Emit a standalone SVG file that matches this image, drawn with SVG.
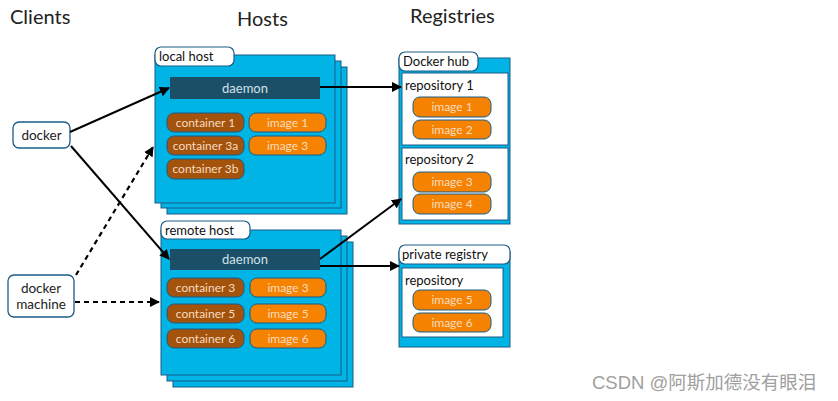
<svg xmlns="http://www.w3.org/2000/svg" width="838" height="401" viewBox="0 0 838 401">
<defs>
<marker id="ah" viewBox="0 0 10 10" refX="9" refY="5" markerWidth="10" markerHeight="10" markerUnits="userSpaceOnUse" orient="auto"><path d="M0,0 L10,5 L0,10 z" fill="#000"/></marker>
<style>
.title{font-family:Lato,"Liberation Sans",sans-serif;font-size:20px;fill:#222}
.panel{fill:#00b4e6;stroke:#1a5c86;stroke-width:1}
.tab{fill:#fff;stroke:#1a5c86;stroke-width:1.2}
.lbl{font-family:Lato,"Liberation Sans",sans-serif;font-size:13px;fill:#111}
.daemon{fill:#1b4f68}
.dtext{font-family:Lato,"Liberation Sans",sans-serif;font-size:13px;fill:#d0e2ea;text-anchor:middle}
.cont{fill:#a3530c;stroke:#1a5c86;stroke-width:1}
.img{fill:#f58200;stroke:#1a5c86;stroke-width:1}
.ptext{font-family:Lato,"Liberation Sans",sans-serif;font-size:12px;fill:#f8dcc0;text-anchor:middle}
.repo{fill:#fff;stroke:#1a5c86;stroke-width:1}
.client{fill:#fff;stroke:#1a5c86;stroke-width:1.3}
.ctext{font-family:Lato,"Liberation Sans",sans-serif;font-size:13.5px;fill:#222;text-anchor:middle}
.conn{stroke:#000;stroke-width:2;fill:none;marker-end:url(#ah)}
.dash{stroke-dasharray:5,4;stroke-width:2.2}
.wm{font-family:"Liberation Sans","Noto Sans CJK SC",sans-serif;font-size:18.5px;fill:#a0a0a0}
</style>
</defs>
<text class="title" x="10" y="24">Clients</text>
<text class="title" x="237" y="26">Hosts</text>
<text class="title" x="410" y="23">Registries</text>

<g id="local-host">
<rect class="panel" x="167" y="67" width="180" height="147"/>
<rect class="panel" x="161" y="61" width="180" height="147"/>
<rect class="panel" x="155" y="55" width="180" height="148"/>
<rect class="tab" x="155" y="47" width="79" height="19" rx="6"/>
<text class="lbl" x="159" y="61">local host</text>
<rect class="daemon" x="170" y="77" width="150" height="22"/>
<text class="dtext" x="245" y="93">daemon</text>
<rect class="cont" x="167" y="113" width="77" height="19" rx="7"/>
<text class="ptext" x="205.5" y="127">container 1</text>
<rect class="cont" x="167" y="136" width="77" height="19" rx="7"/>
<text class="ptext" x="205.5" y="150">container 3a</text>
<rect class="cont" x="167" y="159" width="77" height="20" rx="7"/>
<text class="ptext" x="205.5" y="173">container 3b</text>
<rect class="img" x="249" y="113" width="77" height="19" rx="7"/>
<text class="ptext" x="287.5" y="127">image 1</text>
<rect class="img" x="249" y="136" width="77" height="19" rx="7"/>
<text class="ptext" x="287.5" y="150">image 3</text>
</g>

<g id="remote-host">
<rect class="panel" x="173" y="242" width="180" height="145"/>
<rect class="panel" x="167" y="236" width="180" height="145"/>
<rect class="panel" x="161" y="230" width="180" height="145"/>
<rect class="tab" x="161" y="221" width="89" height="18" rx="6"/>
<text class="lbl" x="165" y="235">remote host</text>
<rect class="daemon" x="170" y="249" width="150" height="21"/>
<text class="dtext" x="245" y="264">daemon</text>
<rect class="cont" x="167" y="278" width="77" height="19" rx="7"/>
<text class="ptext" x="205.5" y="292">container 3</text>
<rect class="cont" x="167" y="304" width="77" height="19" rx="7"/>
<text class="ptext" x="205.5" y="318">container 5</text>
<rect class="cont" x="167" y="329" width="77" height="19" rx="7"/>
<text class="ptext" x="205.5" y="343">container 6</text>
<rect class="img" x="250" y="278" width="76" height="19" rx="7"/>
<text class="ptext" x="288" y="292">image 3</text>
<rect class="img" x="250" y="304" width="76" height="19" rx="7"/>
<text class="ptext" x="288" y="318">image 5</text>
<rect class="img" x="250" y="329" width="76" height="19" rx="7"/>
<text class="ptext" x="288" y="343">image 6</text>
</g>

<g id="docker-hub">
<rect class="panel" x="399" y="58" width="111" height="166"/>
<rect class="tab" x="399" y="52" width="79" height="19" rx="6"/>
<text class="lbl" x="403" y="66">Docker hub</text>
<rect class="repo" x="402" y="73" width="106" height="72"/>
<text class="lbl" x="405" y="90">repository 1</text>
<rect class="img" x="413" y="97" width="78" height="20" rx="7"/>
<text class="ptext" x="452" y="111">image 1</text>
<rect class="img" x="413" y="120" width="78" height="19" rx="7"/>
<text class="ptext" x="452" y="134">image 2</text>
<rect class="repo" x="402" y="148" width="106" height="72"/>
<text class="lbl" x="405" y="164">repository 2</text>
<rect class="img" x="413" y="172" width="78" height="20" rx="7"/>
<text class="ptext" x="452" y="186">image 3</text>
<rect class="img" x="413" y="194" width="78" height="20" rx="7"/>
<text class="ptext" x="452" y="208">image 4</text>
</g>

<g id="private-registry">
<rect class="panel" x="399" y="252" width="111" height="95"/>
<rect class="tab" x="399" y="245" width="111" height="19" rx="6"/>
<text class="lbl" x="402" y="259">private registry</text>
<rect class="repo" x="402" y="268" width="101" height="69"/>
<text class="lbl" x="405" y="285">repository</text>
<rect class="img" x="413" y="290" width="78" height="20" rx="7"/>
<text class="ptext" x="452" y="304">image 5</text>
<rect class="img" x="413" y="313" width="78" height="19" rx="7"/>
<text class="ptext" x="452" y="327">image 6</text>
</g>

<g id="docker">
<rect class="client" x="13" y="122" width="57" height="26" rx="6"/>
<text class="ctext" x="41.5" y="140">docker</text>
</g>

<g id="docker-machine">
<rect class="client" x="8" y="275" width="66" height="42" rx="6"/>
<text class="ctext" x="41" y="293">docker</text>
<text class="ctext" x="41" y="309">machine</text>
</g>

<g id="connectors">
<path class="conn" d="M70,132 L169,88"/>
<path class="conn" d="M71,146 L169,259"/>
<path class="conn dash" d="M76,275 L153,147"/>
<path class="conn dash" d="M75,302 L159,302"/>
<path class="conn" d="M320,87 L401,87"/>
<path class="conn" d="M320,259 L401,199"/>
<path class="conn" d="M320,266 L399,266"/>
</g>

<text class="wm" x="592" y="389">CSDN @阿斯加德没有眼泪</text>
</svg>
